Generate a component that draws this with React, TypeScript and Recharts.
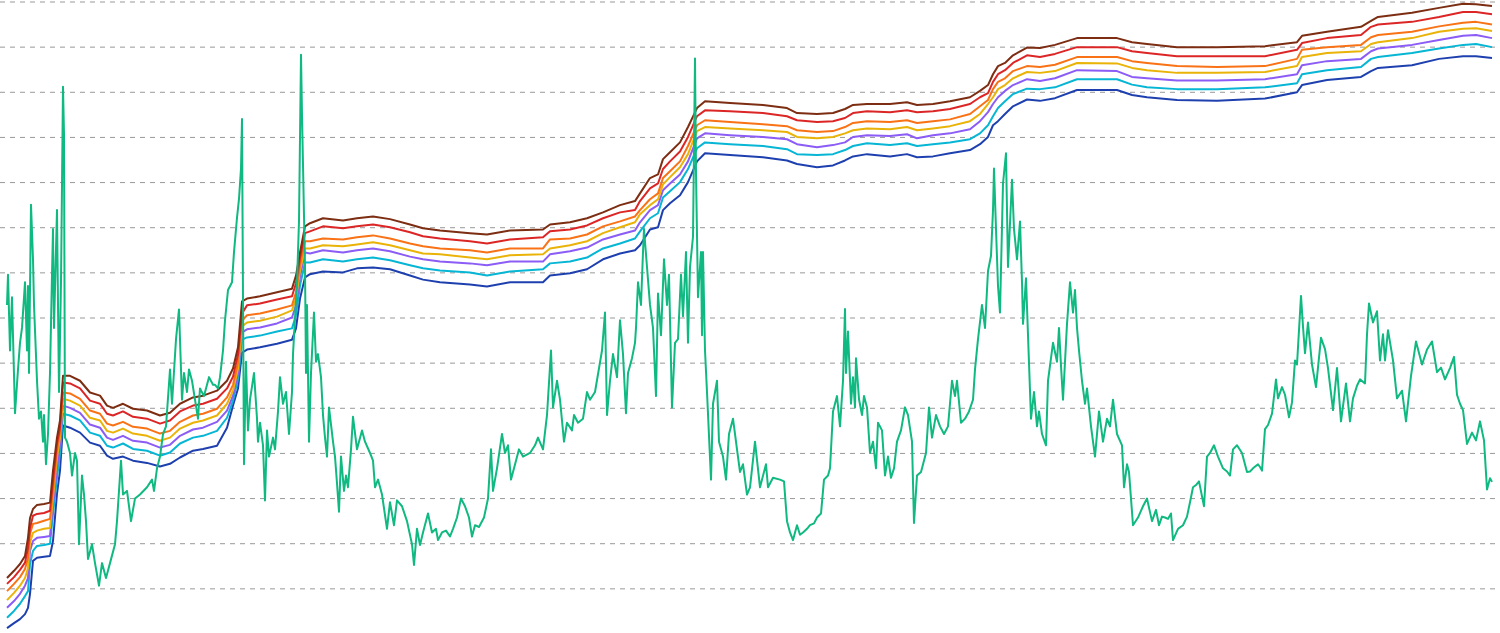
import { LineChart, Line, XAxis, YAxis, CartesianGrid } from 'recharts';

// price history: [day, level] pairs (level in grid units)
const priceHistory: [number, number][] = [
  [7, 7.29], [8, 7.96], [10, 6.28], [12, 7.46], [15, 4.89], [18, 5.86], [20, 6.45], [22, 6.78], [25, 7.79], [27, 6.28],
  [28, 7.71], [29, 5.78], [31, 9.51], [33, 8.3], [34, 7.29], [37, 5.61], [39, 4.77], [41, 4.93], [43, 4.26], [44, 4.85],
  [46, 3.76], [48, 4.43], [50, 5.78], [52, 7.96], [53, 8.97], [54, 6.78], [57, 9.39], [58, 7.29], [59, 5.36], [61, 7.79],
  [63, 12.12], [64, 11.07], [65, 4.35], [67, 4.26], [70, 4.01], [72, 3.51], [75, 4.01], [77, 3.84], [79, 1.99], [82, 3.51],
  [84, 3.09], [86, 2.5], [88, 1.66], [92, 1.99], [95, 1.57], [99, 1.07], [102, 1.57], [106, 1.24], [110, 1.57], [115, 1.99],
  [117, 2.5], [121, 3.84], [123, 3.09], [127, 3.17], [131, 2.5], [135, 3.0], [140, 3.09], [147, 3.25], [152, 3.42], [154, 3.17],
  [157, 3.67], [160, 3.93], [163, 4.43], [166, 4.6], [170, 5.86], [172, 5.1], [176, 6.53], [179, 7.19], [182, 5.19], [184, 5.78],
  [187, 5.36], [189, 5.86], [192, 5.61], [198, 4.77], [200, 5.44], [204, 5.27], [209, 5.69], [213, 5.52], [215, 5.52], [218, 5.44],
  [220, 5.69], [223, 6.28], [225, 6.95], [228, 7.62], [232, 7.79], [234, 8.46], [237, 9.22], [239, 9.64], [241, 10.31], [242, 11.41],
  [243, 7.46], [244, 3.76], [246, 6.03], [248, 4.51], [250, 5.19], [254, 5.78], [257, 4.77], [258, 4.26], [260, 4.68], [263, 4.18],
  [265, 2.96], [267, 4.51], [269, 3.93], [273, 4.35], [275, 4.09], [278, 4.93], [280, 5.69], [283, 5.1], [286, 5.36], [289, 4.43],
  [292, 5.36], [293, 6.2], [297, 7.79], [299, 9.14], [301, 12.83], [302, 11.49], [303, 10.4], [305, 8.13], [306, 5.78], [307, 7.29],
  [309, 4.26], [311, 5.78], [314, 7.12], [316, 6.03], [318, 6.2], [321, 5.69], [323, 4.85], [325, 4.35], [327, 3.93], [329, 5.02],
  [333, 4.26], [335, 3.93], [337, 3.34], [339, 2.71], [341, 3.93], [344, 3.17], [346, 3.51], [348, 3.25], [351, 4.09], [353, 4.81],
  [357, 4.09], [362, 4.51], [365, 4.26], [370, 4.01], [373, 3.84], [375, 3.25], [378, 3.42], [382, 3.09], [387, 2.33], [390, 2.92],
  [394, 2.41], [397, 2.96], [402, 2.83], [407, 2.5], [412, 1.99], [414, 1.53], [417, 2.33], [420, 1.97], [423, 2.25], [428, 2.67],
  [432, 2.25], [436, 2.33], [438, 2.08], [442, 2.25], [446, 2.29], [450, 2.16], [453, 2.33], [457, 2.58], [461, 3.0], [465, 2.83],
  [469, 2.58], [472, 2.16], [475, 2.41], [479, 2.37], [484, 2.58], [488, 3.0], [491, 4.09], [493, 3.17], [497, 3.67], [502, 4.43],
  [505, 4.01], [508, 4.18], [511, 3.42], [514, 3.67], [519, 4.09], [523, 3.93], [530, 4.01], [535, 4.18], [538, 4.35], [543, 4.09],
  [547, 4.85], [551, 6.28], [553, 5.02], [557, 5.61], [560, 5.19], [564, 4.26], [567, 4.68], [572, 4.51], [574, 4.85], [578, 4.68],
  [583, 4.77], [587, 5.36], [590, 5.19], [595, 5.36], [602, 6.28], [605, 7.12], [607, 4.85], [610, 5.61], [613, 6.2], [617, 5.69],
  [620, 6.95], [623, 6.2], [626, 4.89], [628, 5.78], [632, 6.11], [635, 6.45], [636, 6.78], [638, 7.79], [641, 7.29], [643, 8.46],
  [644, 8.97], [647, 8.13], [650, 7.29], [653, 6.78], [656, 5.27], [658, 7.54], [661, 6.62], [664, 8.3], [667, 7.29], [669, 7.96],
  [672, 5.02], [675, 6.45], [678, 6.53], [681, 7.96], [683, 7.04], [686, 8.46], [688, 6.45], [690, 8.13], [693, 8.8], [695, 12.75],
  [696, 10.23], [698, 7.46], [701, 8.46], [702, 6.62], [703, 8.46], [705, 6.28], [707, 5.36], [711, 3.42], [713, 5.1], [717, 5.61],
  [719, 4.26], [723, 3.93], [726, 3.42], [729, 4.43], [733, 4.77], [737, 4.09], [740, 3.59], [743, 3.76], [747, 3.09], [750, 3.25],
  [755, 4.26], [760, 3.25], [766, 3.76], [768, 3.25], [773, 3.46], [780, 3.42], [784, 3.38], [787, 2.5], [790, 2.25], [793, 2.08],
  [797, 2.41], [800, 2.2], [803, 2.25], [807, 2.33], [810, 2.41], [814, 2.45], [817, 2.58], [821, 2.67], [824, 3.42], [828, 3.51],
  [830, 3.67], [833, 4.93], [837, 5.27], [840, 4.6], [843, 5.61], [845, 7.2], [846, 5.78], [848, 6.7], [851, 5.1], [853, 5.69],
  [855, 5.02], [856, 6.11], [859, 5.2], [862, 4.85], [864, 5.27], [867, 5.02], [870, 4.01], [873, 4.26], [876, 3.67], [878, 4.68],
  [882, 4.51], [885, 3.51], [888, 3.93], [891, 3.46], [894, 3.67], [897, 4.26], [901, 4.51], [905, 5.02], [908, 4.85], [912, 4.26],
  [914, 2.46], [917, 3.51], [921, 3.59], [926, 4.01], [929, 5.02], [932, 4.35], [936, 4.85], [940, 4.6], [944, 4.43], [948, 4.6],
  [952, 5.61], [955, 5.27], [957, 5.61], [961, 4.68], [965, 4.77], [969, 4.93], [973, 5.19], [975, 5.86], [978, 6.53], [982, 7.29],
  [985, 6.78], [988, 8.04], [991, 8.38], [993, 9.39], [994, 10.31], [996, 8.97], [998, 7.71], [1000, 7.12], [1003, 9.98], [1006, 10.65],
  [1008, 8.13], [1012, 10.06], [1014, 8.97], [1017, 8.3], [1020, 9.14], [1022, 7.79], [1023, 6.87], [1026, 7.88], [1028, 6.62], [1031, 4.77],
  [1034, 5.36], [1037, 4.6], [1039, 4.93], [1042, 4.43], [1046, 4.18], [1048, 5.61], [1051, 6.11], [1053, 6.45], [1057, 6.03], [1059, 6.78],
  [1061, 5.94], [1063, 5.19], [1065, 6.03], [1067, 6.87], [1070, 7.79], [1073, 7.12], [1075, 7.62], [1077, 6.78], [1079, 6.28], [1082, 5.61],
  [1085, 5.1], [1087, 5.44], [1091, 4.6], [1095, 3.93], [1099, 4.93], [1103, 4.26], [1107, 4.77], [1110, 4.6], [1113, 5.19], [1117, 4.43],
  [1122, 4.18], [1124, 3.25], [1127, 3.76], [1129, 3.59], [1133, 2.41], [1138, 2.58], [1143, 2.83], [1147, 3.0], [1150, 2.7], [1152, 2.5],
  [1156, 2.75], [1159, 2.41], [1162, 2.6], [1165, 2.58], [1168, 2.55], [1171, 2.67], [1173, 2.08], [1178, 2.33], [1183, 2.41], [1187, 2.6],
  [1190, 2.92], [1193, 3.25], [1196, 3.3], [1199, 3.38], [1204, 2.83], [1207, 3.93], [1210, 4.01], [1214, 4.18], [1218, 3.93], [1223, 3.67],
  [1227, 3.6], [1230, 3.51], [1233, 4.09], [1237, 4.18], [1242, 4.01], [1247, 3.59], [1250, 3.6], [1253, 3.67], [1258, 3.76], [1260, 3.7],
  [1262, 3.62], [1265, 4.54], [1268, 4.63], [1272, 4.88], [1276, 5.64], [1278, 5.22], [1282, 5.47], [1285, 5.3], [1289, 4.8], [1292, 5.13],
  [1295, 6.06], [1297, 5.97], [1301, 7.49], [1303, 6.81], [1305, 6.22], [1308, 6.9], [1312, 5.97], [1316, 5.47], [1321, 6.56], [1325, 6.31],
  [1328, 5.89], [1333, 4.96], [1337, 5.89], [1341, 4.71], [1346, 5.55], [1350, 4.71], [1353, 5.22], [1357, 5.5], [1360, 5.64], [1365, 5.55],
  [1367, 6.64], [1369, 7.32], [1373, 6.9], [1377, 7.15], [1380, 6.06], [1383, 6.64], [1385, 6.06], [1388, 6.73], [1393, 6.06], [1397, 5.22],
  [1402, 5.39], [1406, 4.71], [1411, 5.72], [1416, 6.48], [1422, 5.97], [1427, 6.3], [1432, 6.48], [1437, 5.8], [1441, 5.9], [1445, 5.64],
  [1450, 5.89], [1454, 6.14], [1457, 5.3], [1460, 5.1], [1463, 4.96], [1467, 4.21], [1472, 4.46], [1476, 4.29], [1480, 4.71], [1484, 4.29],
  [1487, 3.2], [1490, 3.45], [1492, 3.37],
];

// rainbow bands, sampled on the same days
const bandDays = [
  7, 14, 20, 25, 28, 30, 33, 37, 44, 50,
  53, 57, 60, 63, 70, 80, 90, 100, 107, 113,
  123, 133, 147, 160, 170, 180, 193, 203, 217, 227,
  233, 238, 242, 247, 260, 277, 292, 296, 300, 305,
  310, 323, 343, 357, 373, 390, 410, 423, 440, 470,
  487, 510, 543, 550, 570, 587, 603, 620, 635, 640,
  650, 658, 663, 670, 680, 688, 697, 705, 730, 763,
  787, 797, 817, 833, 845, 853, 867, 890, 907, 917,
  933, 950, 970, 980, 988, 993, 998, 1005, 1013, 1027,
  1040, 1055, 1077, 1117, 1132, 1147, 1177, 1217, 1265, 1297,
  1302, 1327, 1361, 1371, 1378, 1412, 1439, 1463, 1476, 1492,
];

const bandBlue = [
  0.13, 0.24, 0.33, 0.44, 0.58, 0.89, 1.62, 1.69, 1.71, 1.73,
  2.06, 3.11, 3.62, 4.62, 4.57, 4.46, 4.24, 4.17, 3.95, 3.88,
  3.93, 3.84, 3.79, 3.71, 3.77, 3.91, 4.06, 4.1, 4.17, 4.57,
  5.06, 5.44, 6.23, 6.3, 6.35, 6.43, 6.52, 6.77, 7.43, 7.9,
  7.97, 8.03, 8.01, 8.1, 8.12, 8.08, 7.94, 7.85, 7.79, 7.74,
  7.7, 7.79, 7.79, 7.94, 7.99, 8.08, 8.3, 8.43, 8.5, 8.61,
  8.96, 9.01, 9.39, 9.54, 9.72, 10.01, 10.47, 10.65, 10.61, 10.56,
  10.49, 10.41, 10.34, 10.38, 10.49, 10.58, 10.63, 10.58, 10.63, 10.56,
  10.58, 10.65, 10.72, 10.85, 11.01, 11.27, 11.36, 11.52, 11.69, 11.84,
  11.81, 11.87, 12.05, 12.05, 11.94, 11.89, 11.83, 11.81, 11.86, 12.0,
  12.16, 12.27, 12.34, 12.47, 12.54, 12.6, 12.74, 12.8, 12.8, 12.76,
];

const bandCyan = [
  0.36, 0.51, 0.67, 0.84, 0.95, 1.55, 1.84, 1.95, 1.97, 2.0,
  2.66, 3.46, 3.99, 4.88, 4.84, 4.73, 4.46, 4.39, 4.17, 4.13,
  4.22, 4.1, 4.06, 3.95, 4.02, 4.22, 4.35, 4.39, 4.5, 4.79,
  5.17, 5.64, 6.52, 6.57, 6.61, 6.7, 6.77, 7.06, 7.72, 8.23,
  8.23, 8.3, 8.25, 8.3, 8.34, 8.28, 8.17, 8.1, 8.05, 8.01,
  7.94, 8.03, 8.08, 8.21, 8.25, 8.34, 8.54, 8.65, 8.76, 8.92,
  9.21, 9.32, 9.67, 9.81, 10.01, 10.3, 10.76, 10.89, 10.85, 10.81,
  10.74, 10.63, 10.61, 10.63, 10.72, 10.81, 10.87, 10.83, 10.87, 10.81,
  10.85, 10.89, 10.96, 11.09, 11.27, 11.47, 11.65, 11.8, 11.96, 12.08,
  12.07, 12.11, 12.29, 12.29, 12.17, 12.11, 12.07, 12.07, 12.11, 12.2,
  12.4, 12.49, 12.56, 12.74, 12.78, 12.87, 12.97, 13.05, 13.07, 13.0,
];

const bandPurple = [
  0.58, 0.73, 0.89, 1.07, 1.24, 1.84, 2.06, 2.13, 2.15, 2.17,
  2.88, 3.68, 4.22, 5.06, 5.01, 4.9, 4.64, 4.57, 4.35, 4.3,
  4.39, 4.28, 4.24, 4.13, 4.19, 4.39, 4.53, 4.57, 4.7, 4.95,
  5.28, 5.77, 6.68, 6.75, 6.79, 6.88, 7.01, 7.28, 7.92, 8.45,
  8.43, 8.5, 8.45, 8.5, 8.54, 8.48, 8.36, 8.3, 8.25, 8.21,
  8.17, 8.25, 8.25, 8.41, 8.48, 8.56, 8.74, 8.85, 8.94, 9.12,
  9.39, 9.5, 9.83, 9.98, 10.18, 10.47, 10.98, 11.09, 11.05, 11.01,
  10.96, 10.85, 10.78, 10.83, 10.89, 11.01, 11.05, 11.03, 11.07, 10.98,
  11.05, 11.09, 11.18, 11.36, 11.56, 11.74, 11.89, 12.03, 12.16, 12.29,
  12.25, 12.31, 12.49, 12.47, 12.34, 12.31, 12.26, 12.26, 12.29, 12.4,
  12.6, 12.69, 12.74, 12.91, 12.97, 13.05, 13.16, 13.25, 13.27, 13.2,
];

const bandYellow = [
  0.75, 0.91, 1.07, 1.24, 1.46, 2.02, 2.24, 2.29, 2.33, 2.35,
  3.02, 3.91, 4.35, 5.21, 5.17, 5.06, 4.79, 4.73, 4.5, 4.46,
  4.55, 4.44, 4.39, 4.28, 4.35, 4.55, 4.68, 4.73, 4.84, 5.1,
  5.39, 5.88, 6.81, 6.9, 6.94, 7.03, 7.17, 7.43, 8.05, 8.54,
  8.54, 8.61, 8.59, 8.63, 8.68, 8.61, 8.5, 8.43, 8.41, 8.34,
  8.3, 8.39, 8.41, 8.54, 8.61, 8.7, 8.88, 9.01, 9.12, 9.3,
  9.5, 9.63, 9.96, 10.12, 10.34, 10.63, 11.14, 11.23, 11.2, 11.16,
  11.12, 11.01, 10.98, 11.01, 11.09, 11.16, 11.2, 11.18, 11.23, 11.16,
  11.2, 11.25, 11.36, 11.52, 11.74, 11.89, 12.07, 12.16, 12.31, 12.45,
  12.43, 12.47, 12.65, 12.64, 12.54, 12.49, 12.43, 12.43, 12.45, 12.58,
  12.78, 12.87, 12.91, 13.07, 13.11, 13.2, 13.34, 13.41, 13.42, 13.36,
];

const bandOrange = [
  0.95, 1.11, 1.26, 1.44, 1.69, 2.22, 2.44, 2.46, 2.51, 2.55,
  3.17, 4.06, 4.46, 5.35, 5.33, 5.21, 4.95, 4.88, 4.66, 4.62,
  4.7, 4.59, 4.55, 4.44, 4.5, 4.7, 4.84, 4.88, 4.99, 5.24,
  5.52, 6.01, 6.94, 7.06, 7.1, 7.19, 7.28, 7.57, 8.17, 8.7,
  8.7, 8.76, 8.74, 8.79, 8.83, 8.76, 8.65, 8.59, 8.54, 8.5,
  8.45, 8.54, 8.54, 8.74, 8.76, 8.85, 9.03, 9.14, 9.25, 9.39,
  9.63, 9.76, 10.1, 10.25, 10.47, 10.81, 11.27, 11.38, 11.34, 11.29,
  11.25, 11.16, 11.12, 11.14, 11.23, 11.32, 11.36, 11.34, 11.38, 11.32,
  11.36, 11.4, 11.52, 11.69, 11.83, 12.07, 12.23, 12.31, 12.47, 12.58,
  12.56, 12.61, 12.78, 12.78, 12.69, 12.65, 12.58, 12.56, 12.58, 12.74,
  12.94, 13.0, 13.05, 13.22, 13.27, 13.34, 13.46, 13.54, 13.56, 13.5,
];

const bandRed = [
  1.11, 1.26, 1.42, 1.58, 1.91, 2.35, 2.62, 2.66, 2.68, 2.73,
  3.39, 4.22, 4.57, 5.57, 5.55, 5.44, 5.17, 5.1, 4.88, 4.84,
  4.93, 4.81, 4.77, 4.66, 4.73, 4.93, 5.06, 5.1, 5.21, 5.44,
  5.7, 6.19, 7.1, 7.28, 7.32, 7.41, 7.48, 7.77, 8.32, 8.88,
  8.92, 9.03, 8.99, 9.03, 9.07, 9.01, 8.9, 8.81, 8.76, 8.7,
  8.65, 8.74, 8.79, 8.92, 8.96, 9.05, 9.21, 9.34, 9.39, 9.59,
  9.87, 9.98, 10.3, 10.47, 10.69, 11.01, 11.47, 11.6, 11.58, 11.54,
  11.47, 11.38, 11.34, 11.36, 11.43, 11.54, 11.58, 11.56, 11.6, 11.56,
  11.58, 11.63, 11.74, 11.89, 11.98, 12.23, 12.4, 12.49, 12.65, 12.82,
  12.78, 12.85, 13.0, 13.0, 12.91, 12.87, 12.8, 12.8, 12.8, 12.94,
  13.09, 13.2, 13.27, 13.45, 13.5, 13.56, 13.67, 13.78, 13.78, 13.73,
];

const bandBrown = [
  1.24, 1.4, 1.55, 1.73, 2.13, 2.57, 2.77, 2.86, 2.88, 2.91,
  3.62, 4.35, 4.73, 5.72, 5.72, 5.61, 5.35, 5.28, 5.06, 5.01,
  5.1, 4.99, 4.95, 4.84, 4.9, 5.1, 5.24, 5.28, 5.39, 5.61,
  5.88, 6.35, 7.37, 7.43, 7.48, 7.57, 7.65, 7.94, 8.45, 9.03,
  9.1, 9.21, 9.16, 9.21, 9.25, 9.19, 9.07, 8.99, 8.94, 8.88,
  8.85, 8.94, 8.96, 9.07, 9.12, 9.21, 9.34, 9.5, 9.59, 9.76,
  10.1, 10.18, 10.52, 10.67, 10.89, 11.23, 11.65, 11.8, 11.76, 11.72,
  11.65, 11.54, 11.52, 11.54, 11.63, 11.72, 11.74, 11.74, 11.78, 11.72,
  11.74, 11.8, 11.89, 12.03, 12.16, 12.4, 12.58, 12.65, 12.82, 12.99,
  12.98, 13.05, 13.2, 13.2, 13.11, 13.07, 13.0, 13.0, 13.02, 13.11,
  13.25, 13.34, 13.45, 13.58, 13.67, 13.76, 13.87, 13.96, 13.95, 13.91,
];

const gridLevels = [1, 2, 3, 4, 5, 6, 7, 8, 9, 10, 11, 12, 13, 14];

const bandSeries = [
  { key: 'blue', values: bandBlue, color: '#1e40af' },
  { key: 'cyan', values: bandCyan, color: '#06b6d4' },
  { key: 'purple', values: bandPurple, color: '#8b5cf6' },
  { key: 'yellow', values: bandYellow, color: '#eab308' },
  { key: 'orange', values: bandOrange, color: '#f97316' },
  { key: 'red', values: bandRed, color: '#dc2626' },
  { key: 'brown', values: bandBrown, color: '#7c2d12' },
];

const bandRows = bandDays.map((day, i) => {
  const row: Record<string, number> = { day };
  bandSeries.forEach((s) => {
    row[s.key] = s.values[i];
  });
  return row;
});

const priceRows = priceHistory.map(([day, price]) => ({ day, price }));

const App = () => {
  return (
    <div style={{ position: 'absolute', left: 0, top: 0, width: 1500, height: 633, background: '#fff', overflow: 'hidden' }}>
      <LineChart width={1497} height={634} margin={{ top: 2, right: 0, bottom: 0, left: 0 }}>
        <CartesianGrid vertical={false} horizontalValues={gridLevels} stroke="#999" strokeDasharray="5 5" />
        <XAxis type="number" dataKey="day" domain={[0, 1497]} allowDataOverflow hide />
        <YAxis type="number" domain={[0, 14]} ticks={gridLevels} allowDataOverflow hide />
        {bandSeries.map((s) => (
          <Line
            key={s.key}
            data={bandRows}
            dataKey={s.key}
            type="linear"
            stroke={s.color}
            strokeWidth={2}
            strokeLinejoin="round"
            dot={false}
            isAnimationActive={false}
          />
        ))}
        <Line
          data={priceRows}
          dataKey="price"
          type="linear"
          stroke="#10b981"
          strokeWidth={2}
          strokeLinejoin="round"
          dot={false}
          isAnimationActive={false}
        />
      </LineChart>
    </div>
  );
};

export default App;
